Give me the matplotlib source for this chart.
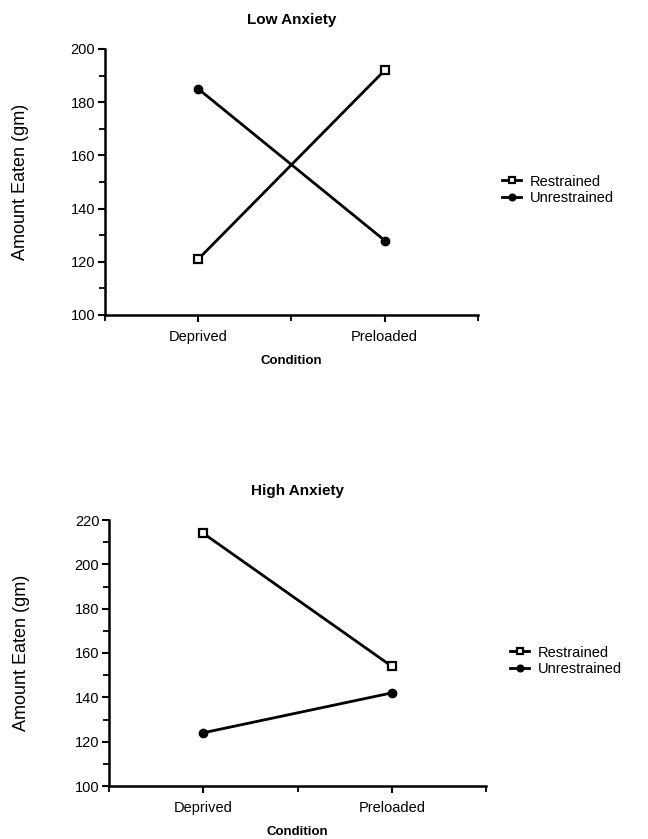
import matplotlib
matplotlib.use("Agg")
import matplotlib.pyplot as plt
from matplotlib.ticker import MultipleLocator

plt.rcParams['font.family'] = ['Liberation Sans', 'DejaVu Sans']

conditions = ["Deprived", "Preloaded"]
series_names = ["Restrained", "Unrestrained"]

low_restrained = [121, 192]
low_unrestrained = [185, 128]
high_restrained = [214, 154]
high_unrestrained = [124, 142]

panel_titles = ["Low Anxiety", "High Anxiety"]
low_yticks = [100, 120, 140, 160, 180, 200]
high_yticks = [100, 120, 140, 160, 180, 200, 220]

W, H = 648, 839
fig = plt.figure(figsize=(W / 100, H / 100), dpi=100)


def rect(l, r, t, b):
    return [l / W, 1 - b / H, (r - l) / W, (b - t) / H]


ax1 = fig.add_axes(rect(105, 478, 49, 315))
ax2 = fig.add_axes(rect(109, 486, 520, 786))


def draw(ax, restrained, unrestrained, title, yticks, ylab_x):
    x = [1, 2]
    ax.plot(x, restrained, color='black', lw=2.0, marker='s', ms=6,
            mfc='white', mec='black', mew=1.6, label=series_names[0])
    ax.plot(x, unrestrained, color='black', lw=2.0, marker='o', ms=6,
            mfc='black', mec='black', label=series_names[1])
    ax.set_xlim(0.5, 2.5)
    ax.set_ylim(yticks[0], yticks[-1])
    ax.set_xticks([1, 2])
    ax.set_xticklabels(conditions, fontsize=10.5)
    ax.xaxis.set_minor_locator(MultipleLocator(0.5))
    ax.set_yticks(yticks)
    ax.yaxis.set_minor_locator(MultipleLocator(10))
    ax.tick_params(axis='y', labelsize=10.5, direction='out', length=5, width=1.5, pad=2)
    ax.tick_params(axis='x', direction='out', length=5, width=1.5, pad=6)
    ax.tick_params(which='minor', direction='out', length=4, width=1.3)
    for s in ['top', 'right']:
        ax.spines[s].set_visible(False)
    for s in ['left', 'bottom']:
        ax.spines[s].set_linewidth(1.8)
    ax.set_title(title, fontsize=11, fontweight='bold', pad=18)
    ax.set_xlabel("Condition", fontsize=9.5, fontweight='bold', labelpad=8)
    ax.set_ylabel("Amount Eaten (gm)", fontsize=13)
    ax.yaxis.set_label_coords(ylab_x, 0.5)
    ax.legend(loc='center left', bbox_to_anchor=(1.03, 0.47), frameon=False,
              fontsize=10.5, handlelength=1.3, handletextpad=0.6, labelspacing=0.2,
              markerscale=0.8)


draw(ax1, low_restrained, low_unrestrained, panel_titles[0], low_yticks, -0.205)
draw(ax2, high_restrained, high_unrestrained, panel_titles[1], high_yticks, -0.21)

fig.savefig("out.png", dpi=100)
